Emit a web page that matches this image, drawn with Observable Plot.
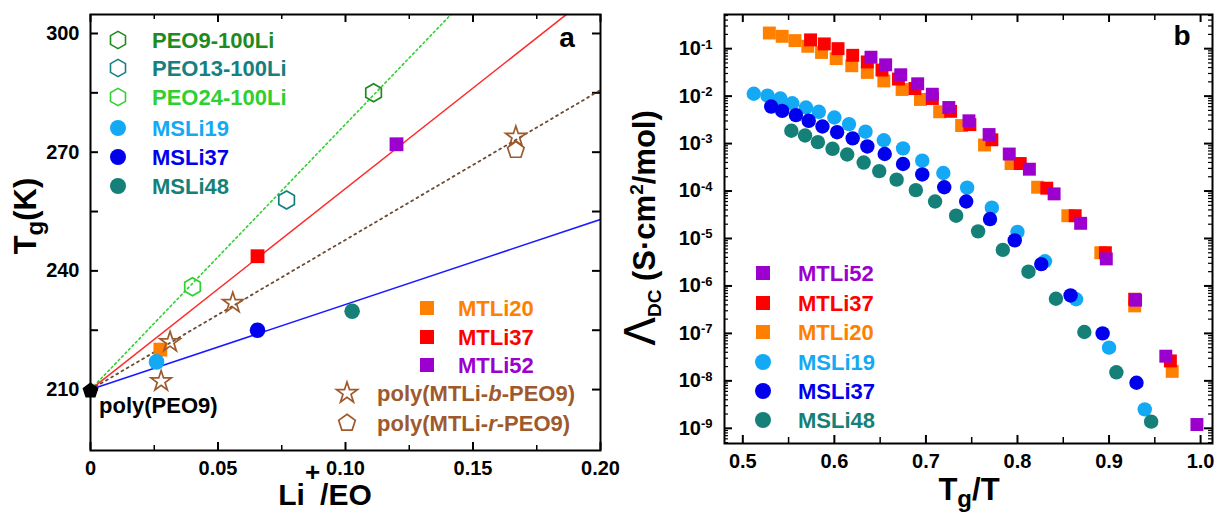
<!DOCTYPE html>
<html><head><meta charset="utf-8">
<script src="https://cdn.jsdelivr.net/npm/d3@7"></script>
<script src="https://cdn.jsdelivr.net/npm/@observablehq/plot@0.6"></script>
<style>
body{margin:0;background:#fff;}
#wrap{position:relative;width:1225px;height:512px;overflow:hidden;background:#fff;}
#wrap svg{position:absolute;top:0;}
</style></head><body><div id="wrap"></div>
<script>
const FONT = '"Liberation Sans", Arial, Helvetica, sans-serif';

// ---------------- Panel a : Tg vs Li+/EO ----------------
const peoNames = ["PEO9-100Li", "PEO13-100Li", "PEO24-100Li"];
const peoLi = [0.111, 0.0769, 0.040];
const peoTg = [285.0, 257.9, 236.0];
const mtliNames = ["MTLi20", "MTLi37", "MTLi52"];
const mtliLi = [0.0274, 0.0655, 0.120];
const mtliTg = [220.1, 243.7, 272.0];
const msliNames = ["MSLi19", "MSLi37", "MSLi48"];
const msliLi = [0.0259, 0.0655, 0.1026];
const msliTg = [217.0, 225.0, 229.8];
const blockLi = [0.0277, 0.0312, 0.0558, 0.1668];   // poly(MTLi-b-PEO9)
const blockTg = [212.1, 222.0, 231.9, 273.9];
const randomLi = [0.1668];                          // poly(MTLi-r-PEO9)
const randomTg = [270.5];
const homoLi = [0];                                 // poly(PEO9)
const homoTg = [209.7];
// linear fits (end points)
const fitNames = ["PEO-100Li", "MTLi", "copolymer", "MSLi"];
const fitLiStart = [0, 0, 0, 0];
const fitTgStart = [210, 210, 210, 210];
const fitLiEnd = [0.1415, 0.1868, 0.20, 0.20];
const fitTgEnd = [304.9, 304.9, 285.7, 253.0];

// ---------------- Panel b : Lambda_DC vs Tg/T ----------------
const bNames = ["MTLi52", "MTLi37", "MTLi20", "MSLi19", "MSLi37", "MSLi48"];
const tgT_MTLi20 = [0.529,0.543,0.557,0.571,0.586,0.602,0.619,0.636,0.654,0.674,0.694,0.715,0.739,0.764,0.793,0.822,0.855,0.891,0.928,0.969];
const logL_MTLi20 = [-0.67,-0.74,-0.83,-0.95,-1.08,-1.21,-1.36,-1.50,-1.68,-1.86,-2.07,-2.33,-2.62,-3.03,-3.42,-3.92,-4.52,-5.30,-6.42,-7.80];
const tgT_MTLi37 = [0.574,0.589,0.604,0.620,0.636,0.652,0.670,0.688,0.707,0.727,0.748,0.772,0.803,0.832,0.863,0.896,0.928,0.967];
const logL_MTLi37 = [-0.815,-0.90,-1.00,-1.14,-1.28,-1.45,-1.64,-1.84,-2.05,-2.32,-2.60,-2.92,-3.42,-3.94,-4.52,-5.30,-6.28,-7.58];
const tgT_MTLi52 = [0.640,0.656,0.6725,0.691,0.707,0.725,0.747,0.769,0.791,0.813,0.840,0.869,0.897,0.929,0.962,0.996];
const logL_MTLi52 = [-1.18,-1.34,-1.55,-1.74,-1.96,-2.24,-2.52,-2.81,-3.22,-3.54,-4.06,-4.68,-5.43,-6.30,-7.48,-8.92];
const tgT_MSLi19 = [0.512,0.527,0.541,0.554,0.569,0.583,0.600,0.616,0.634,0.654,0.675,0.696,0.719,0.745,0.772,0.800,0.830,0.864,0.900,0.939];
const logL_MSLi19 = [-1.95,-1.99,-2.05,-2.15,-2.24,-2.33,-2.45,-2.59,-2.75,-2.93,-3.10,-3.36,-3.62,-3.93,-4.35,-4.86,-5.48,-6.28,-7.30,-8.60];
const tgT_MSLi37 = [0.531,0.543,0.558,0.572,0.587,0.603,0.620,0.636,0.655,0.675,0.696,0.720,0.744,0.770,0.797,0.826,0.858,0.893,0.930];
const logL_MSLi37 = [-2.22,-2.31,-2.40,-2.52,-2.64,-2.76,-2.89,-3.06,-3.22,-3.43,-3.65,-3.92,-4.22,-4.59,-5.04,-5.54,-6.20,-7.00,-8.04];
const tgT_MSLi48 = [0.553,0.568,0.582,0.598,0.614,0.632,0.649,0.668,0.689,0.710,0.733,0.757,0.784,0.812,0.842,0.873,0.908,0.946];
const logL_MSLi48 = [-2.73,-2.83,-2.97,-3.11,-3.23,-3.40,-3.58,-3.76,-3.98,-4.22,-4.52,-4.85,-5.24,-5.70,-6.27,-6.97,-7.82,-8.86];

const yTicksA = [210, 240, 270, 300];
const xTicksA = [0, 0.05, 0.10, 0.15, 0.20];
const xTicksB = [0.5, 0.6, 0.7, 0.8, 0.9, 1.0];
const yTicksB = [1e-9,1e-8,1e-7,1e-6,1e-5,1e-4,1e-3,1e-2,1e-1];

const col = {
  PEO9: "#1f8a1f", PEO13: "#168080", PEO24: "#2fd02f",
  MTLi20: "#ff8000", MTLi37: "#ff0000", MTLi52: "#9b00cf",
  MSLi19: "#13a9f4", MSLi37: "#0000ee", MSLi48: "#148078",
  brown: "#9e5a2c", brownLine: "#6e4a30"
};

// custom symbols
const hexSym = {draw(ctx, size){const rx=Math.sqrt(size/Math.PI), ry=rx*2/Math.sqrt(3), hy=ry/2;
  ctx.moveTo(0,ry);ctx.lineTo(rx,hy);ctx.lineTo(rx,-hy);ctx.lineTo(0,-ry);ctx.lineTo(-rx,-hy);ctx.lineTo(-rx,hy);ctx.closePath();}};
const pentSym = {draw(ctx, size){const r=Math.sqrt(size/Math.PI)*1.12;
  for(let k=0;k<5;k++){const a=-Math.PI/2+k*2*Math.PI/5;const x=r*Math.cos(a),y=r*Math.sin(a);k?ctx.lineTo(x,y):ctx.moveTo(x,y);}ctx.closePath();}};

const zip = (xs, ys, extra={}) => xs.map((x,i)=>({x, y: ys[i], ...extra}));

// ---------- build panel a ----------
const WA = 615, HA = 512, mlA = 90, mrA = 15, mtA = 14, mbA = 62;
const iwA = WA-mlA-mrA, ihA = HA-mtA-mbA;
const fits = fitNames.map((n,i)=>[{x:fitLiStart[i],y:fitTgStart[i]},{x:fitLiEnd[i],y:fitTgEnd[i]}]);
const yTicksAMinor = [225,255,285];
const xTicksAMinor = [0.025,0.075,0.125,0.175];

const plotA = Plot.plot({
  width: WA, height: HA, marginLeft: mlA, marginRight: mrA, marginTop: mtA, marginBottom: mbA,
  style: {fontFamily: FONT, fontWeight: "bold", fontSize: "20px", color: "#000", background: "transparent", overflow: "visible"},
  x: {domain: [0, 0.20]},
  y: {domain: [194.6, 304.8]},
  marks: [
    Plot.axisX({ticks: xTicksA, tickFormat: d => d === 0 ? "0" : d.toFixed(2), tickSize: 0, tickPadding: 10, label: null}),
    Plot.axisY({ticks: yTicksA, tickSize: 0, tickPadding: 11, label: null}),
    // inward ticks
    Plot.tickY(yTicksA.concat(yTicksAMinor), {y: d=>d, insetRight: iwA-8, stroke: "#000", strokeWidth: 2}),
    Plot.tickY(yTicksA.concat(yTicksAMinor), {y: d=>d, insetLeft: iwA-8, stroke: "#000", strokeWidth: 2}),
    Plot.tickX(xTicksA, {x: d=>d, insetTop: ihA-8, stroke: "#000", strokeWidth: 2}),
    Plot.tickX(xTicksA, {x: d=>d, insetBottom: ihA-8, stroke: "#000", strokeWidth: 2}),
    Plot.tickX(xTicksAMinor, {x: d=>d, insetTop: ihA-5, stroke: "#000", strokeWidth: 1.5}),
    Plot.tickX(xTicksAMinor, {x: d=>d, insetBottom: ihA-5, stroke: "#000", strokeWidth: 1.5}),
    // fits
    Plot.line(fits[0], {x: "x", y: "y", stroke: col.PEO24, strokeWidth: 1.6, strokeDasharray: "2,3", clip: true}),
    Plot.line(fits[1], {x: "x", y: "y", stroke: "#ff2a2a", strokeWidth: 1.5, clip: true}),
    Plot.line(fits[2], {x: "x", y: "y", stroke: col.brownLine, strokeWidth: 1.8, strokeDasharray: "2,4", strokeLinecap: "round", clip: true}),
    Plot.line(fits[3], {x: "x", y: "y", stroke: "#1a1aff", strokeWidth: 1.5, clip: true}),
    // data
    Plot.dot(zip([peoLi[0]],[peoTg[0]]), {x:"x", y:"y", symbol: hexSym, r: 7.8, fill: "none", stroke: col.PEO9, strokeWidth: 1.7}),
    Plot.dot(zip([peoLi[1]],[peoTg[1]]), {x:"x", y:"y", symbol: hexSym, r: 7.8, fill: "none", stroke: col.PEO13, strokeWidth: 1.7}),
    Plot.dot(zip([peoLi[2]],[peoTg[2]]), {x:"x", y:"y", symbol: hexSym, r: 7.8, fill: "none", stroke: col.PEO24, strokeWidth: 1.7}),
    Plot.dot(zip(mtliLi, mtliTg, {}).map((d,i)=>({...d, c: mtliNames[i]})), {x:"x", y:"y", symbol: "square", r: 7.8, fill: d => col[d.c]}),
    Plot.dot(zip(blockLi, blockTg), {x:"x", y:"y", symbol: "star", r: 6.4, fill: "none", stroke: col.brown, strokeWidth: 1.7}),
    Plot.dot(zip(randomLi, randomTg), {x:"x", y:"y", symbol: pentSym, r: 7.8, fill: "none", stroke: col.brown, strokeWidth: 1.7}),
    Plot.dot(zip(msliLi, msliTg).map((d,i)=>({...d, c: msliNames[i]})), {x:"x", y:"y", symbol: "circle", r: 7.8, fill: d => col[d.c]}),
    Plot.dot(zip(homoLi, homoTg), {x:"x", y:"y", symbol: pentSym, r: 7.5, fill: "#000"}),
    Plot.frame({stroke: "#000", strokeWidth: 2})
  ]
});
plotA.style.left = "0px";
document.getElementById("wrap").appendChild(plotA);

// ---------- build panel b ----------
const WB = 610, HB = 512, mlB = 109, mrB = 13, mtB = 14, mbB = 69;
const iwB = WB-mlB-mrB, ihB = HB-mtB-mbB;
const yMinorB = [];
for (let e = -10; e <= -1; e++) for (let k = 2; k <= 9; k++) { const v = k*Math.pow(10,e); if (v > Math.pow(10,-9.32) && v < Math.pow(10,-0.28)) yMinorB.push(v); }
const xMinorB = [0.55,0.65,0.75,0.85,0.95];
const ser = (xs, ls, name) => xs.map((x,i)=>({x, y: Math.pow(10, ls[i]), s: name}));

const plotB = Plot.plot({
  width: WB, height: HB, marginLeft: mlB, marginRight: mrB, marginTop: mtB, marginBottom: mbB,
  style: {fontFamily: FONT, fontWeight: "bold", fontSize: "20px", color: "#000", background: "transparent", overflow: "visible"},
  x: {domain: [0.480, 1.013]},
  y: {type: "log", domain: [Math.pow(10,-9.32), Math.pow(10,-0.28)]},
  marks: [
    Plot.axisX({ticks: xTicksB, tickFormat: d => d.toFixed(1), tickSize: 0, tickPadding: 10, label: null}),
    Plot.axisY({ticks: yTicksB, tickFormat: d => "10^" + Math.round(Math.log10(d)), tickSize: 0, tickPadding: 12, label: null}),
    Plot.tickY(yTicksB, {y: d=>d, insetRight: iwB-8, stroke: "#000", strokeWidth: 2}),
    Plot.tickY(yTicksB, {y: d=>d, insetLeft: iwB-8, stroke: "#000", strokeWidth: 2}),
    Plot.tickY(yMinorB, {y: d=>d, insetRight: iwB-4, stroke: "#000", strokeWidth: 1.2}),
    Plot.tickY(yMinorB, {y: d=>d, insetLeft: iwB-4, stroke: "#000", strokeWidth: 1.2}),
    Plot.tickX(xTicksB, {x: d=>d, insetTop: ihB-8, stroke: "#000", strokeWidth: 2}),
    Plot.tickX(xTicksB, {x: d=>d, insetBottom: ihB-8, stroke: "#000", strokeWidth: 2}),
    Plot.tickX(xMinorB, {x: d=>d, insetTop: ihB-6, stroke: "#000", strokeWidth: 1.5}),
    Plot.tickX(xMinorB, {x: d=>d, insetBottom: ihB-6, stroke: "#000", strokeWidth: 1.5}),
    Plot.dot(ser(tgT_MTLi20, logL_MTLi20, "MTLi20"), {x:"x", y:"y", symbol: "square", r: 7.3, fill: col.MTLi20}),
    Plot.dot(ser(tgT_MTLi37, logL_MTLi37, "MTLi37"), {x:"x", y:"y", symbol: "square", r: 7.3, fill: col.MTLi37}),
    Plot.dot(ser(tgT_MTLi52, logL_MTLi52, "MTLi52"), {x:"x", y:"y", symbol: "square", r: 7.3, fill: col.MTLi52}),
    Plot.dot(ser(tgT_MSLi19, logL_MSLi19, "MSLi19"), {x:"x", y:"y", symbol: "circle", r: 7.2, fill: col.MSLi19}),
    Plot.dot(ser(tgT_MSLi37, logL_MSLi37, "MSLi37"), {x:"x", y:"y", symbol: "circle", r: 7.2, fill: col.MSLi37}),
    Plot.dot(ser(tgT_MSLi48, logL_MSLi48, "MSLi48"), {x:"x", y:"y", symbol: "circle", r: 7.2, fill: col.MSLi48}),
    Plot.frame({stroke: "#000", strokeWidth: 2})
  ]
});
plotB.style.left = "615px";
document.getElementById("wrap").appendChild(plotB);

// superscript exponents on log tick labels
d3.select(plotB).selectAll("text").each(function(){
  const s = this.textContent;
  if (!s.startsWith("10^")) return;
  const e = s.slice(3);
  const t = d3.select(this); t.text(null);
  t.append("tspan").text("10");
  t.append("tspan").attr("dy", "-0.5em").style("font-size", "13px").text(e);
});

// ---------- legends, titles, annotations ----------
function legend(svg, items, fontSize) {
  const g = d3.select(svg).append("g").style("font-family", FONT).style("font-weight", "bold").style("font-size", fontSize+"px");
  for (const it of items) {
    g.append("path").attr("transform", `translate(${it.sx},${it.y})`).attr("d", d3.symbol(it.sym, it.size)())
      .attr("fill", it.fill).attr("stroke", it.stroke || "none").attr("stroke-width", it.sw || 0);
    const t = g.append("text").attr("x", it.tx).attr("y", it.y).attr("dy", "0.36em").attr("text-anchor", "start").attr("fill", it.color);
    for (const [s, ital] of it.parts) t.append("tspan").text(s).style("font-style", ital ? "italic" : null);
  }
}
const A = Math.PI;
legend(plotA, [
  {sx:118, tx:152, y:40, sym:hexSym, size:A*7.5*7.5, fill:"none", stroke:col.PEO9, sw:1.6, color:col.PEO9, parts:[[peoNames[0]]]},
  {sx:118, tx:152, y:68, sym:hexSym, size:A*7.5*7.5, fill:"none", stroke:col.PEO13, sw:1.6, color:col.PEO13, parts:[[peoNames[1]]]},
  {sx:118, tx:152, y:97, sym:hexSym, size:A*7.5*7.5, fill:"none", stroke:col.PEO24, sw:1.6, color:col.PEO24, parts:[[peoNames[2]]]},
  {sx:118, tx:152, y:128, sym:d3.symbolCircle, size:A*8*8, fill:col.MSLi19, color:col.MSLi19, parts:[[msliNames[0]]]},
  {sx:118, tx:152, y:157, sym:d3.symbolCircle, size:A*8*8, fill:col.MSLi37, color:col.MSLi37, parts:[[msliNames[1]]]},
  {sx:118, tx:152, y:186, sym:d3.symbolCircle, size:A*8*8, fill:col.MSLi48, color:col.MSLi48, parts:[[msliNames[2]]]},
  {sx:427, tx:458, y:308, sym:d3.symbolSquare, size:14*14, fill:col.MTLi20, color:col.MTLi20, parts:[[mtliNames[0]]]},
  {sx:427, tx:458, y:337, sym:d3.symbolSquare, size:14*14, fill:col.MTLi37, color:col.MTLi37, parts:[[mtliNames[1]]]},
  {sx:427, tx:458, y:365, sym:d3.symbolSquare, size:14*14, fill:col.MTLi52, color:col.MTLi52, parts:[[mtliNames[2]]]},
  {sx:347, tx:377, y:393, sym:d3.symbolStar, size:A*6.6*6.6, fill:"none", stroke:col.brown, sw:1.7, color:col.brown, parts:[["poly(MTLi-"],["b",true],["-PEO9)"]]},
  {sx:347, tx:377, y:423, sym:pentSym, size:A*7.8*7.8, fill:"none", stroke:col.brown, sw:1.7, color:col.brown, parts:[["poly(MTLi-"],["r",true],["-PEO9)"]]},
], 22);
legend(plotB, [
  {sx:148, tx:183, y:273, sym:d3.symbolSquare, size:14*14, fill:col.MTLi52, color:col.MTLi52, parts:[[bNames[0]]]},
  {sx:148, tx:183, y:303, sym:d3.symbolSquare, size:14*14, fill:col.MTLi37, color:col.MTLi37, parts:[[bNames[1]]]},
  {sx:148, tx:183, y:332, sym:d3.symbolSquare, size:14*14, fill:col.MTLi20, color:col.MTLi20, parts:[[bNames[2]]]},
  {sx:148, tx:183, y:362, sym:d3.symbolCircle, size:A*8*8, fill:col.MSLi19, color:col.MSLi19, parts:[[bNames[3]]]},
  {sx:148, tx:183, y:391, sym:d3.symbolCircle, size:A*8*8, fill:col.MSLi37, color:col.MSLi37, parts:[[bNames[4]]]},
  {sx:148, tx:183, y:420, sym:d3.symbolCircle, size:A*8*8, fill:col.MSLi48, color:col.MSLi48, parts:[[bNames[5]]]},
], 22);

function txt(svg){ return d3.select(svg).append("text").style("font-family", FONT).style("font-weight","bold").attr("fill","#000"); }
// panel letters
txt(plotA).attr("x",567).attr("y",47).attr("text-anchor","middle").style("font-size","28px").text("a");
txt(plotB).attr("x",567).attr("y",45).attr("text-anchor","middle").style("font-size","28px").text("b");
// poly(PEO9) label
txt(plotA).attr("x",99).attr("y",413).attr("text-anchor","start").style("font-size","22px").text("poly(PEO9)");
// left y title
{ const t = txt(plotA).attr("transform","translate(36,216) rotate(-90)").attr("text-anchor","middle").style("font-size","31px");
  t.append("tspan").text("T"); t.append("tspan").attr("dy","7").style("font-size","24px").text("g"); t.append("tspan").attr("dy","-7").text("(K)"); }
// left x title
{ const t = txt(plotA).attr("x",325).attr("y",505).attr("text-anchor","middle").style("font-size","30px");
  t.append("tspan").text("Li"); t.append("tspan").attr("dy","-24").style("font-size","26px").text("+"); t.append("tspan").attr("dy","24").text("/EO"); }
// right x title
{ const t = txt(plotB).attr("x",354).attr("y",500).attr("text-anchor","middle").style("font-size","31px");
  t.append("tspan").text("T"); t.append("tspan").attr("dy","7").style("font-size","24px").text("g"); t.append("tspan").attr("dy","-7").text("/T"); }
// right y title
{ const t = txt(plotB).attr("transform","translate(40,228) rotate(-90)").attr("text-anchor","middle").style("font-size","31px");
  t.append("tspan").style("font-family","'DejaVu Sans', sans-serif").style("font-weight","normal").style("font-size","42px").text("Λ");
  t.append("tspan").attr("dy","6").style("font-size","19px").text("DC");
  t.append("tspan").attr("dy","-6").text(" (S·cm");
  t.append("tspan").attr("dy","-12").style("font-size","19px").text("2");
  t.append("tspan").attr("dy","12").text("/mol)"); }
</script></body></html>
